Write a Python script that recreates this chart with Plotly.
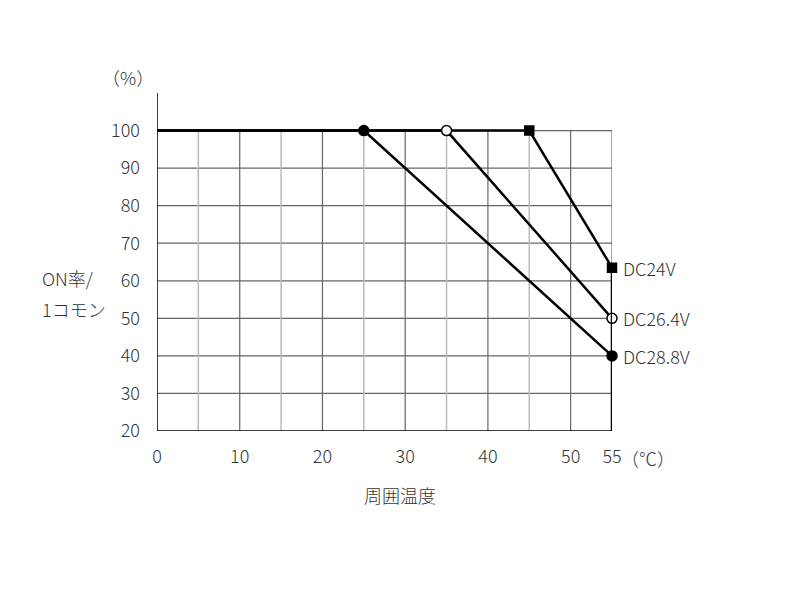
import plotly.graph_objects as go

# values
temp_ticks = [0, 10, 20, 30, 40, 50, 55]
rate_ticks = [20, 30, 40, 50, 60, 70, 80, 90, 100]
grid_major_x = [10, 20, 30, 40, 50]
grid_minor_x = [5, 15, 25, 35, 45]

series_names = ["DC28.8V", "DC26.4V", "DC24V"]
series_x = [[0, 25, 55], [0, 35, 55], [0, 45, 55]]
series_y = [[100, 100, 40], [100, 100, 50], [100, 100, 63.5]]
symbols = ["circle", "circle-open", "square"]

FONT = "Noto Sans CJK JP"
TXT = "#333333"
FS = 18
W = 300

fig = go.Figure()

shapes = []
# horizontal grid lines, stop at 100
for v in rate_ticks[1:]:
    shapes.append(dict(type="line", xref="x", yref="y", x0=0, x1=55, y0=v, y1=v,
                       line=dict(color="#666666", width=1.2), layer="below"))
for v in grid_major_x + [55]:
    shapes.append(dict(type="line", xref="x", yref="y", x0=v, x1=v, y0=20, y1=100,
                       line=dict(color="#666666", width=1.2), layer="below"))
for v in grid_minor_x:
    shapes.append(dict(type="line", xref="x", yref="y", x0=v, x1=v, y0=20, y1=100,
                       line=dict(color="#bbbbbb", width=1.5), layer="below"))
# axes
shapes.append(dict(type="line", xref="x", yref="y", x0=0, x1=0, y0=20, y1=110,
                   line=dict(color="black", width=1.5)))
shapes.append(dict(type="line", xref="x", yref="y", x0=0, x1=55, y0=20, y1=20,
                   line=dict(color="black", width=1.5)))
shapes.append(dict(type="line", xref="x", yref="y", x0=55, x1=55, y0=20, y1=max(s[-1] for s in series_y),
                   line=dict(color="black", width=2.5)))

for xs, ys in zip(series_x, series_y):
    fig.add_trace(go.Scatter(x=xs, y=ys, mode="lines", line=dict(color="black", width=2.5),
                             showlegend=False, cliponaxis=False, hoverinfo="skip"))
for name, xs, ys, sym in zip(series_names, series_x, series_y, symbols):
    fill = "white" if sym == "circle-open" else "black"
    fig.add_trace(go.Scatter(
        x=xs[1:], y=ys[1:], mode="markers", name=name,
        marker=dict(symbol="circle" if sym == "circle-open" else sym,
                    size=9 if sym == "square" else 10, color=fill,
                    line=dict(color="black", width=1.5)),
        showlegend=False, cliponaxis=False))
    fig.add_annotation(x=xs[-1], y=ys[-1], text=name, showarrow=False, xanchor="left",
                       xshift=9, font=dict(family=FONT, size=FS, color=TXT, weight=W))

annos = [
    dict(x=-0.064, y=1.047, text="（%）", xanchor="center"),
    dict(x=-0.257, y=0.453, text="ON率/", xanchor="left"),
    dict(x=-0.257, y=0.36, text="1コモン", xanchor="left"),
    dict(x=0.534, y=-0.189, text="周囲温度", xanchor="center"),
    dict(x=1.079, y=-0.080, text="（℃）", xanchor="center"),
]
for a in annos:
    fig.add_annotation(xref="paper", yref="paper", showarrow=False, yanchor="middle",
                       font=dict(family=FONT, size=FS, color=TXT, weight=W), **a)

fig.update_layout(
    width=800, height=600,
    margin=dict(l=149, r=196, t=85, b=177),
    plot_bgcolor="white", paper_bgcolor="white",
    shapes=shapes,
    font=dict(family=FONT, size=FS, color=TXT, weight=W),
    xaxis=dict(range=[0, 55], tickvals=temp_ticks, showgrid=False, zeroline=False, showline=False,
               ticks="", ticklabelstandoff=13),
    yaxis=dict(range=[20, 110], tickvals=rate_ticks, showgrid=False, zeroline=False, showline=False,
               ticks="", ticklabelstandoff=16),
)

fig.write_html("out.html")
